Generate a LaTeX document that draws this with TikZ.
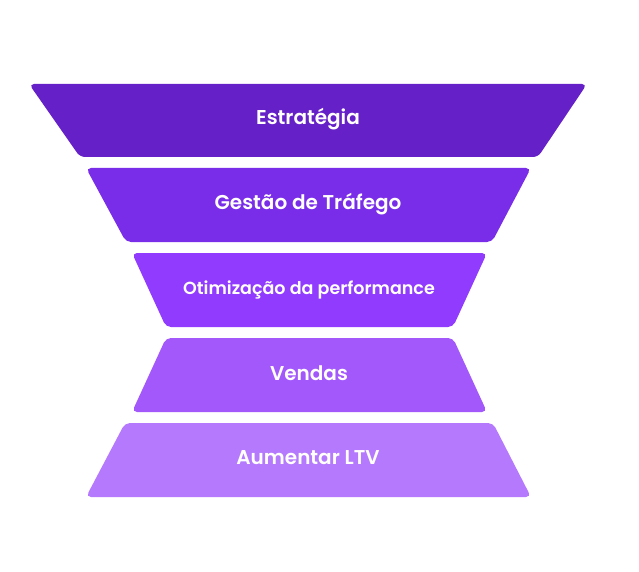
\documentclass[tikz,border=0pt]{standalone}
\usepackage{fontspec}
\setmainfont{Poppins}[UprightFont={* SemiBold}]
\usepackage{tikz}
\definecolor{layerA}{HTML}{6620C8}
\definecolor{layerB}{HTML}{7A2DE8}
\definecolor{layerC}{HTML}{903BFD}
\definecolor{layerD}{HTML}{A258FA}
\definecolor{layerE}{HTML}{B479FC}
\tikzstyle{layer}=[rounded corners=5pt]
\tikzstyle{label}=[text=white, font=\fontsize{20}{24}\selectfont]
\begin{document}
\begin{tikzpicture}[x=1pt, y=-1pt]
		   \useasboundingbox (0,0) rectangle (639,572);
		   \fill[layer, layerA] (29,84) -- (587,84) -- (538,157) -- (80,157) -- cycle;
		   \fill[layer, layerB] (86,168) -- (531,168) -- (492,242) -- (126,242) -- cycle;
		   \fill[layer, layerC] (132,253) -- (487,253) -- (453,327) -- (166,327) -- cycle;
		   \fill[layer, layerD] (166,338) -- (453,338) -- (487,412) -- (132,412) -- cycle;
		   \fill[layer, layerE] (125,423) -- (493,423) -- (531,497) -- (86,497) -- cycle;
		   \node[label] (strategy) at (308, 119) {Estratégia};
		   \node[label] (traffic) at (308, 204) {Gestão de Tráfego};
		   \node[label, font=\fontsize{17.5}{21}\selectfont] (perf) at (309, 290) {Otimização da performance};
		   \node[label] (sales) at (309, 373) {Vendas};
		   \node[label] (ltv) at (308, 458) {Aumentar LTV};
	   \end{tikzpicture}
\end{document}
